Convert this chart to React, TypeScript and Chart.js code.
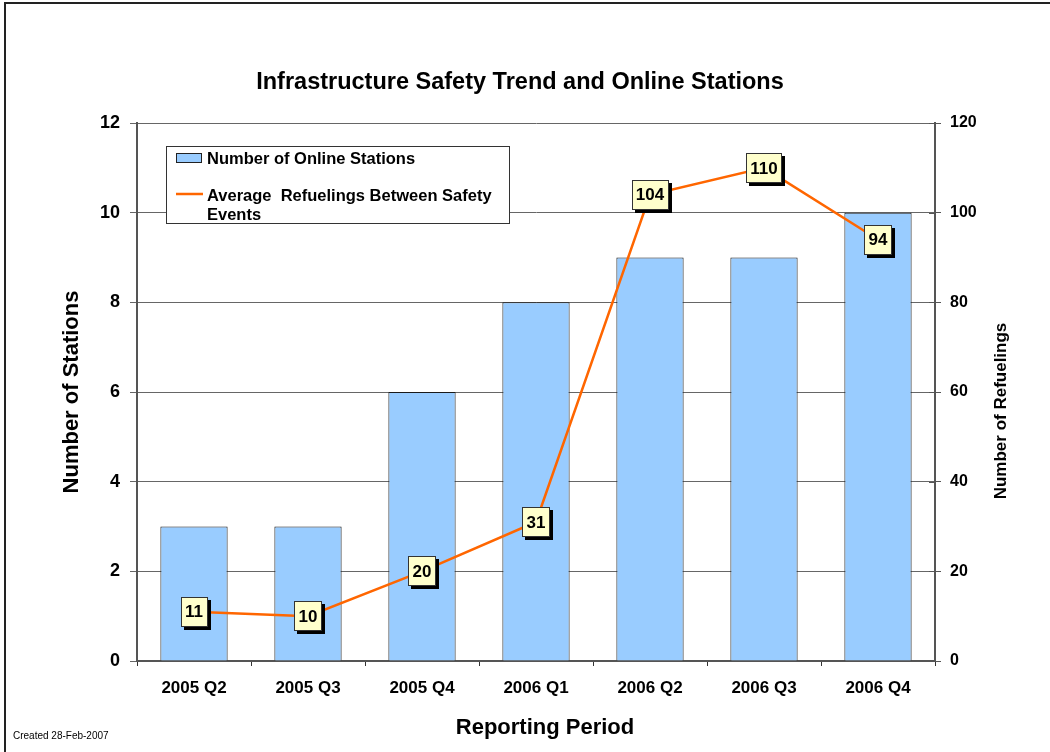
import React, { useEffect, useRef } from "react";
import { Chart, registerables } from "chart.js";

Chart.register(...registerables);

const periods = ["2005 Q2", "2005 Q3", "2005 Q4", "2006 Q1", "2006 Q2", "2006 Q3", "2006 Q4"];
const onlineStations = [3, 3, 6, 8, 9, 9, 10];
const avgRefuelings = [11, 10, 20, 31, 104, 110, 94];
const leftTicks = [0, 2, 4, 6, 8, 10, 12];
const rightTicks = [0, 20, 40, 60, 80, 100, 120];

const FONT = "'Liberation Sans', Arial, sans-serif";

const overlayPlugin = {
  id: "overlay",
  afterDatasetsDraw(chart: any) {
    const ctx = chart.ctx;
    const meta = chart.getDatasetMeta(1);
    ctx.save();
    ctx.font = `bold 17px ${FONT}`;
    ctx.textAlign = "center";
    ctx.textBaseline = "middle";
    meta.data.forEach((pt: any, i: number) => {
      const txt = String(avgRefuelings[i]);
      const w = Math.round(ctx.measureText(txt).width) + 9;
      const h = 30;
      const x = Math.round(pt.x - w / 2);
      const y = Math.round(pt.y - h / 2);
      ctx.fillStyle = "#000";
      ctx.fillRect(x + 3, y + 3, w, h);
      ctx.fillStyle = "#FFFFCC";
      ctx.fillRect(x, y, w, h);
      ctx.strokeStyle = "#333";
      ctx.lineWidth = 1;
      ctx.strokeRect(x + 0.5, y + 0.5, w - 1, h - 1);
      ctx.fillStyle = "#000";
      ctx.fillText(txt, pt.x, pt.y + 1);
    });
    ctx.restore();
  },
  afterDraw(chart: any) {
    const ctx = chart.ctx;
    const area = chart.chartArea;
    const y1 = chart.scales.y1;
    ctx.save();
    // right axis ticks crossing inward
    ctx.strokeStyle = "#555";
    ctx.lineWidth = 1;
    rightTicks.forEach((v) => {
      const py = Math.round(y1.getPixelForValue(v)) + 0.5;
      ctx.beginPath();
      ctx.moveTo(area.right - 6, py);
      ctx.lineTo(area.right, py);
      ctx.stroke();
    });
    // outer frame (top & left)
    ctx.strokeStyle = "#222";
    ctx.lineWidth = 2;
    ctx.beginPath();
    ctx.moveTo(5, 752);
    ctx.lineTo(5, 3);
    ctx.lineTo(1050, 3);
    ctx.stroke();

    ctx.fillStyle = "#000";
    ctx.textAlign = "center";
    ctx.textBaseline = "middle";
    ctx.font = `bold 23.5px ${FONT}`;
    ctx.fillText("Infrastructure Safety Trend and Online Stations", 520, 83);

    ctx.font = `bold 22px ${FONT}`;
    ctx.fillText("Reporting Period", 545, 728);

    ctx.save();
    ctx.translate(72, 392);
    ctx.rotate(-Math.PI / 2);
    ctx.fillText("Number of Stations", 0, 0);
    ctx.restore();

    ctx.save();
    ctx.font = `bold 17px ${FONT}`;
    ctx.translate(1001, 411);
    ctx.rotate(-Math.PI / 2);
    ctx.fillText("Number of Refuelings", 0, 0);
    ctx.restore();

    // legend
    ctx.fillStyle = "#fff";
    ctx.fillRect(166, 146, 344, 78);
    ctx.strokeStyle = "#333";
    ctx.lineWidth = 1;
    ctx.strokeRect(166.5, 146.5, 343, 77);
    ctx.fillStyle = "#99CCFF";
    ctx.fillRect(176, 153, 26, 10);
    ctx.strokeStyle = "#222";
    ctx.strokeRect(176.5, 153.5, 25, 9);
    ctx.strokeStyle = "#FF6600";
    ctx.lineWidth = 2.5;
    ctx.beginPath();
    ctx.moveTo(176, 194);
    ctx.lineTo(203, 194);
    ctx.stroke();
    ctx.fillStyle = "#000";
    ctx.textAlign = "left";
    ctx.font = `bold 16.5px ${FONT}`;
    ctx.fillText(chart.data.datasets[0].label, 207, 159);
    ctx.fillText("Average  Refuelings Between Safety", 207, 196);
    ctx.fillText("Events", 207, 215);

    ctx.font = `10px ${FONT}`;
    ctx.fillText("Created 28-Feb-2007", 13, 736);
    ctx.restore();
  },
};

export default function App() {
  const ref = useRef<HTMLCanvasElement | null>(null);
  useEffect(() => {
    if (!ref.current) return;
    const chart = new Chart(ref.current, {
      type: "bar",
      data: {
        labels: periods,
        datasets: [
          {
            type: "bar",
            label: "Number of Online Stations",
            data: onlineStations,
            backgroundColor: "#99CCFF",
            borderColor: "#1a1a1a",
            borderWidth: 1,
            yAxisID: "y",
            order: 1,
            barPercentage: 0.59,
            categoryPercentage: 1,
          } as any,
          {
            type: "line",
            label: "Average Refuelings Between Safety Events",
            data: avgRefuelings,
            borderColor: "#FF6600",
            backgroundColor: "#FF6600",
            borderWidth: 2.5,
            pointRadius: 0,
            tension: 0,
            yAxisID: "y1",
            order: 0,
          } as any,
        ],
      },
      options: {
        responsive: false,
        animation: false,
        devicePixelRatio: 1,
        layout: { padding: { top: 123, left: 0, right: 0, bottom: 0 } },
        plugins: { legend: { display: false }, tooltip: { enabled: false }, title: { display: false } },
        scales: {
          x: {
            offset: true,
            grid: { offset: true, drawOnChartArea: false, drawTicks: true, tickLength: 5, color: "#333" },
            border: { color: "#555", width: 2 },
            ticks: { color: "#000", font: { family: FONT, size: 17, weight: "bold" }, padding: 12, maxRotation: 0 },
            afterFit: (s: any) => {
              s.height = 91;
            },
          },
          y: {
            position: "left",
            min: 0,
            max: 12,
            afterBuildTicks: (s: any) => {
              s.ticks = leftTicks.map((v) => ({ value: v }));
            },
            grid: { color: "#666", lineWidth: 1, tickLength: 7 },
            border: { color: "#555", width: 2 },
            ticks: { color: "#000", font: { family: FONT, size: 18, weight: "bold" }, padding: 10 },
            afterFit: (s: any) => {
              s.width = 137;
            },
          },
          y1: {
            position: "right",
            min: 0,
            max: 120,
            afterBuildTicks: (s: any) => {
              s.ticks = rightTicks.map((v) => ({ value: v }));
            },
            grid: { drawOnChartArea: false, color: "#555", tickLength: 6 },
            border: { color: "#555", width: 2 },
            ticks: { color: "#000", font: { family: FONT, size: 16, weight: "bold" }, padding: 9 },
            afterFit: (s: any) => {
              s.width = 115;
            },
          },
        },
      } as any,
      plugins: [overlayPlugin],
    });
    return () => chart.destroy();
  }, []);
  return (
    <div style={{ position: "absolute", left: 0, top: 0, width: 1050, height: 752, background: "#fff" }}>
      <canvas ref={ref} width={1050} height={752} style={{ display: "block" }} />
    </div>
  );
}
